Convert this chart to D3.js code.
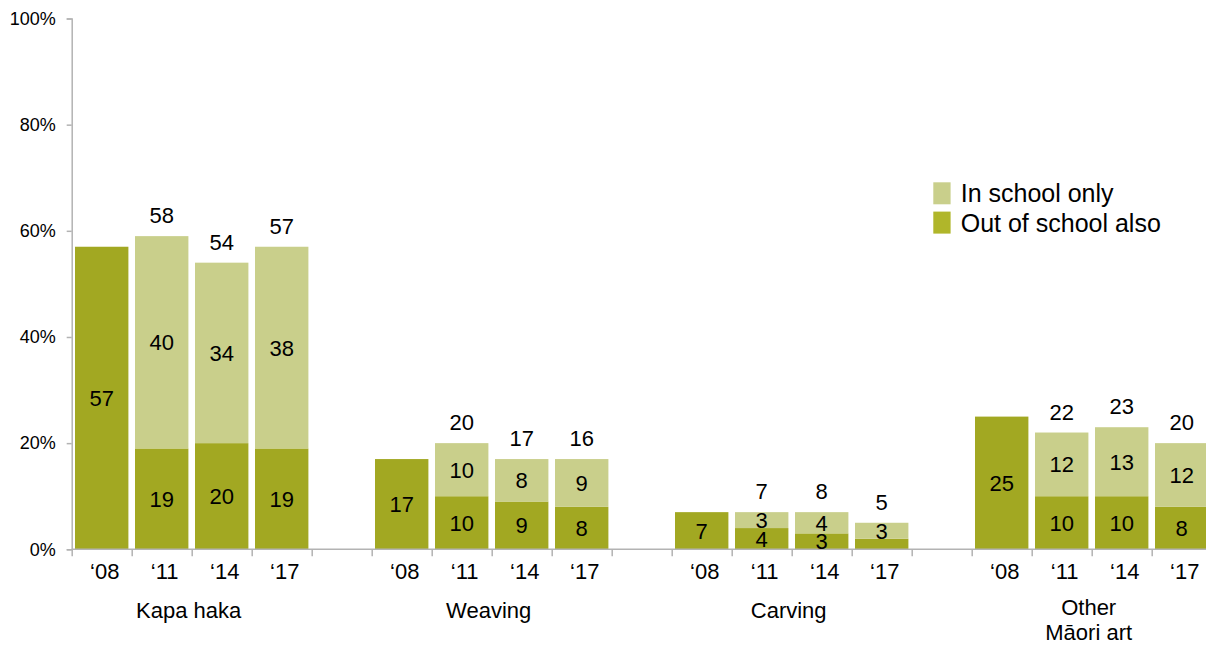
<!DOCTYPE html>
<html>
<head>
<meta charset="utf-8">
<script src="https://cdn.jsdelivr.net/npm/d3@7"></script>
<style>
  html, body { margin: 0; padding: 0; background: #fff; }
  svg { display: block; font-family: "Liberation Sans", Arial, sans-serif; }
</style>
</head>
<body>
<div id="chart"></div>
<script>
// ---- Data ----
const groups = ["Kapa haka", "Weaving", "Carving", "Other\nMāori art"];
const years = ["‘08", "‘11", "‘14", "‘17"];
const seriesNames = ["In school only", "Out of school also"];
// Out of school also (bottom segment), per group, per year
const outOfSchool = [
  [57, 19, 20, 19],
  [17, 10, 9, 8],
  [7, 4, 3, 2],
  [25, 10, 10, 8]
];
// In school only (top segment)
const inSchoolOnly = [
  [0, 40, 34, 38],
  [0, 10, 8, 9],
  [0, 3, 4, 3],
  [0, 12, 13, 12]
];
// Total labels shown above the stacked bars
const totals = [
  [null, 58, 54, 57],
  [null, 20, 17, 16],
  [null, 7, 8, 5],
  [null, 22, 23, 20]
];
const yTicks = [0, 20, 40, 60, 80, 100];

// ---- Layout ----
const W = 1206, H = 646;
const colDark = "#A2A822", colLight = "#C9CF8B", colLegendDark = "#B0B62A";
const axisColor = "#B3B3B3";
const svg = d3.select("#chart").append("svg").attr("width", W).attr("height", H);

// slots: 4 bars per group plus an empty slot between groups
const slots = [];
groups.forEach((g, gi) => {
  years.forEach((yr, yi) => slots.push({ key: gi + "|" + yi, gi, yi }));
  if (gi < groups.length - 1) slots.push({ key: "gap" + gi, gi: -1 });
});
const x0 = 71.7, step = 60;
const x = d3.scaleBand()
  .domain(slots.map(s => s.key))
  .range([x0, x0 + step * slots.length])
  .paddingInner(0.11).paddingOuter(0.055);
const y = d3.scaleLinear().domain([0, 100]).range([549.3, 18.5]);

// Build bar data
const bars = [];
groups.forEach((g, gi) => years.forEach((yr, yi) => {
  bars.push({ key: gi + "|" + yi, out: outOfSchool[gi][yi], inn: inSchoolOnly[gi][yi], total: totals[gi][yi] });
}));

// ---- Y axis ----
const yAxis = d3.axisLeft(y).tickValues(yTicks).tickSize(5).tickPadding(11).tickFormat(d => d + "%");
const gy = svg.append("g").attr("transform", `translate(${x0},0)`).call(yAxis);
gy.select(".domain").attr("stroke", axisColor).attr("stroke-width", 1.5);
gy.selectAll(".tick line").attr("stroke", axisColor).attr("stroke-width", 1.5);
gy.selectAll(".tick text").attr("font-size", 18).attr("fill", "#000")
  .attr("font-family", "Liberation Sans, Arial, sans-serif");

// ---- Bars ----
const gb = svg.append("g");
gb.selectAll("rect.out").data(bars).join("rect")
  .attr("x", d => x(d.key)).attr("width", x.bandwidth())
  .attr("y", d => y(d.out)).attr("height", d => y(0) - y(d.out))
  .attr("fill", colDark);
gb.selectAll("rect.inn").data(bars.filter(d => d.inn > 0)).join("rect")
  .attr("x", d => x(d.key)).attr("width", x.bandwidth())
  .attr("y", d => y(d.out + d.inn)).attr("height", d => y(d.out) - y(d.out + d.inn))
  .attr("fill", colLight);

// ---- X axis (ticks at slot boundaries) ----
const xs = d3.scaleLinear().domain([0, slots.length]).range([x0, x0 + step * slots.length]);
const xAxis = d3.axisBottom(xs).tickValues(d3.range(0, slots.length + 1)).tickSize(7).tickFormat("");
const gx = svg.append("g").attr("transform", `translate(0,${y(0)})`).call(xAxis);
gx.select(".domain").attr("stroke", axisColor).attr("stroke-width", 1.5).attr("d", `M${x0},0H${x0 + step * slots.length}`);
gx.selectAll(".tick line").attr("stroke", axisColor).attr("stroke-width", 1.5);

// ---- Value labels ----
const fs = 22;
const gl = svg.append("g").attr("font-size", fs).attr("text-anchor", "middle").attr("fill", "#000");
const cx = d => x(d.key) + x.bandwidth() / 2;
gl.selectAll("text.out").data(bars.filter(d => d.out >= 3)).join("text")
  .attr("x", cx).attr("y", d => (y(0) + y(d.out)) / 2).attr("dy", "0.36em").text(d => d.out);
gl.selectAll("text.inn").data(bars.filter(d => d.inn > 0)).join("text")
  .attr("x", cx).attr("y", d => (y(d.out) + y(d.out + d.inn)) / 2).attr("dy", "0.36em").text(d => d.inn);
gl.selectAll("text.tot").data(bars.filter(d => d.total != null)).join("text")
  .attr("x", cx).attr("y", d => y(d.out + d.inn) - 13).text(d => d.total);

// ---- Year labels ----
const gyL = svg.append("g").attr("font-size", fs).attr("text-anchor", "middle").attr("fill", "#000");
gyL.selectAll("text").data(bars).join("text")
  .attr("x", d => cx(d) + 3).attr("y", 579.3)
  .text(d => years[+d.key.split("|")[1]]);

// ---- Group labels ----
const gg = svg.append("g").attr("font-size", fs).attr("text-anchor", "middle").attr("fill", "#000");
groups.forEach((g, gi) => {
  const first = x(gi + "|0"), last = x(gi + "|" + (years.length - 1)) + x.bandwidth();
  const lines = g.split("\n");
  const t = gg.append("text").attr("x", (first + last) / 2 - 3).attr("y", lines.length > 1 ? 615 : 618);
  lines.forEach((line, li) => {
    t.append("tspan").attr("x", (first + last) / 2 - 3).attr("dy", li === 0 ? 0 : 25).text(line);
  });
});

// ---- Legend ----
const lg = svg.append("g").attr("transform", "translate(933.3,182.3)");
const legendColors = [colLight, colLegendDark];
seriesNames.forEach((n, i) => {
  lg.append("rect").attr("x", 0).attr("y", i * 29.3).attr("width", 17.3).attr("height", 22).attr("fill", legendColors[i]);
  lg.append("text").attr("x", 27.4).attr("y", i * 29.3 + 20).attr("font-size", 25).attr("fill", "#000").text(n);
});
</script>
</body>
</html>
